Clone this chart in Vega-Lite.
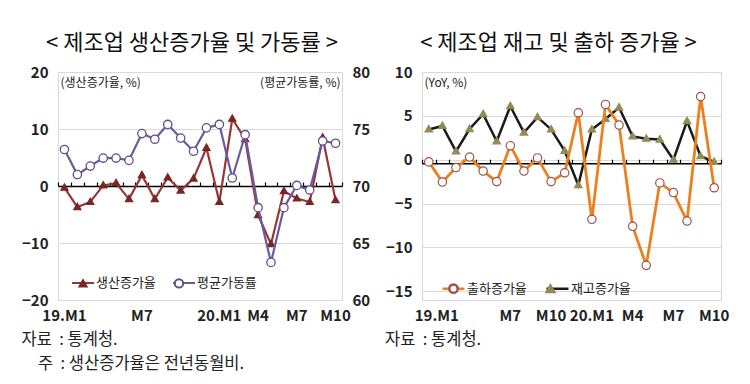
{
  "$schema": "https://vega.github.io/schema/vega-lite/v6.json",
  "background": "white",
  "padding": {"left": 20, "top": 31, "right": 5, "bottom": 5},
  "spacing": 13,
  "config": {
    "font": "Noto Sans CJK KR",
    "view": {"stroke": "#d9d9d9"},
    "axis": {"labelColor": "#222222", "titleColor": "#222222", "labelFont": "Noto Sans CJK KR", "titleFont": "Noto Sans CJK KR"},
    "legend": {"labelFont": "Noto Sans CJK KR", "labelColor": "#222222"},
    "title": {"font": "Noto Sans CJK KR", "color": "#111111"}
  },
  "datasets": {
    "mfg": [
      {"month": "2019-01", "prod": -0.3, "util": 73.2, "ship": -0.25, "inv": 3.45},
      {"month": "2019-02", "prod": -3.7, "util": 71.0, "ship": -2.55, "inv": 3.85},
      {"month": "2019-03", "prod": -2.8, "util": 71.75, "ship": -0.9, "inv": 0.95},
      {"month": "2019-04", "prod": 0.1, "util": 72.45, "ship": 0.3, "inv": 3.5},
      {"month": "2019-05", "prod": 0.5, "util": 72.45, "ship": -1.3, "inv": 5.2},
      {"month": "2019-06", "prod": -2.3, "util": 72.25, "ship": -2.5, "inv": 2.1},
      {"month": "2019-07", "prod": 1.9, "util": 74.6, "ship": 1.6, "inv": 6.1},
      {"month": "2019-08", "prod": -2.3, "util": 74.1, "ship": -1.3, "inv": 3.1},
      {"month": "2019-09", "prod": 1.5, "util": 75.4, "ship": 0.2, "inv": 4.85},
      {"month": "2019-10", "prod": -0.8, "util": 74.2, "ship": -2.5, "inv": 3.45},
      {"month": "2019-11", "prod": 1.3, "util": 73.05, "ship": -1.5, "inv": 1.0},
      {"month": "2019-12", "prod": 6.7, "util": 75.1, "ship": 5.35, "inv": -2.9},
      {"month": "2020-01", "prod": -2.8, "util": 75.4, "ship": -6.8, "inv": 3.45},
      {"month": "2020-02", "prod": 11.8, "util": 70.7, "ship": 6.3, "inv": 4.65},
      {"month": "2020-03", "prod": 8.2, "util": 74.5, "ship": 3.95, "inv": 5.95},
      {"month": "2020-04", "prod": -5.1, "util": 68.1, "ship": -7.6, "inv": 2.65},
      {"month": "2020-05", "prod": -10.2, "util": 63.3, "ship": -12.05, "inv": 2.4},
      {"month": "2020-06", "prod": -0.9, "util": 68.1, "ship": -2.65, "inv": 2.3},
      {"month": "2020-07", "prod": -2.2, "util": 70.05, "ship": -3.75, "inv": 0.0},
      {"month": "2020-08", "prod": -2.8, "util": 69.65, "ship": -7.0, "inv": 4.4},
      {"month": "2020-09", "prod": 8.5, "util": 73.95, "ship": 7.2, "inv": 0.4},
      {"month": "2020-10", "prod": -2.5, "util": 73.75, "ship": -3.2, "inv": -0.25}
    ]
  },
  "resolve": {
    "scale": {"color": "independent", "fill": "independent", "stroke": "independent", "shape": "independent"},
    "legend": {"color": "independent", "fill": "independent", "stroke": "independent", "shape": "independent"}
  },
  "hconcat": [
    {
      "width": 284,
      "height": 228,
      "title": {"text": "< 제조업 생산증가율 및 가동률 >", "fontSize": 22, "fontWeight": "normal", "offset": 10, "dx": -8},
      "data": {"name": "mfg"},
      "layer": [
        {
          "encoding": {
            "x": {
              "field": "month", "type": "ordinal", "bandPosition": 0.5,
              "scale": {"type": "band", "paddingInner": 0, "paddingOuter": 0},
              "axis": {
                "values": ["2019-01", "2019-07", "2020-01", "2020-04", "2020-07", "2020-10"],
                "labelExpr": "substring(datum.value,5,7)=='01' ? substring(datum.value,2,4)+'.M1' : 'M'+toNumber(substring(datum.value,5,7))",
                "domain": false, "ticks": false, "tickSize": 0, "labelAngle": 0,
                "labelFontSize": 15, "labelFontWeight": "bold", "labelPadding": 8,
                "title": ["자료\u00a0 : 통계청.", "\u200b\u3000주\u00a0 : 생산증가율은 전년동월비."],
                "titleAnchor": "start", "titleAlign": "left", "titleX": -37, "titleY": 39,
                "titleBaseline": "middle", "titleFontSize": 16.5, "titleFontWeight": "normal", "titleLineHeight": 24
              }
            }
          },
          "layer": [
            {
              "mark": {"type": "line", "strokeWidth": 2.2},
              "encoding": {
                "y": {"field": "prod", "type": "quantitative", "scale": {"domain": [-20, 20]},
                  "axis": {"values": [-20, -10, 0, 10, 20], "grid": true, "gridColor": "#d9d9d9", "domain": false, "ticks": false,
                    "labelFontSize": 15, "labelFontWeight": "bold", "labelPadding": 10,
                    "title": "(생산증가율, %)", "titleAngle": 0, "titleX": 2, "titleY": 10, "titleAlign": "left", "titleBaseline": "middle",
                    "titleFontSize": 12, "titleFontWeight": "normal"}},
                "color": {
                  "datum": "생산증가율", "type": "nominal",
                  "scale": {"domain": ["생산증가율", "평균가동률"], "range": ["#953735", "#6b5b9e"]},
                  "legend": {"orient": "none", "legendX": 13, "legendY": 199, "direction": "horizontal", "title": null, "padding": 0,
                    "symbolType": "stroke", "symbolSize": 484, "symbolStrokeWidth": 2, "labelFontSize": 13, "labelOffset": 1, "columnPadding": 13}
                }
              }
            },
            {
              "mark": {"type": "point", "filled": true, "size": 484, "strokeWidth": 1.3, "opacity": 1},
              "encoding": {
                "y": {"field": "prod", "type": "quantitative"},
                "shape": {"datum": "p", "type": "nominal",
                  "scale": {"domain": ["p", "u"], "range": ["M0,-0.34L0.32,0.22L-0.32,0.22Z", "M0.38,0A0.38,0.38,0,1,1,-0.38,0A0.38,0.38,0,1,1,0.38,0Z"]},
                  "legend": {"orient": "none", "legendX": 13, "legendY": 199, "direction": "horizontal", "title": null, "padding": 0,
                    "symbolSize": 484, "symbolStrokeWidth": 2, "labelFontSize": 13, "labelOffset": 1, "columnPadding": 71,
                    "labelExpr": "''"}},
                "fill": {"datum": "p", "type": "nominal", "scale": {"domain": ["p", "u"], "range": ["#7a2626", "#ffffff"]}},
                "stroke": {"datum": "p", "type": "nominal", "scale": {"domain": ["p", "u"], "range": ["#7a2626", "#5e4f8c"]}}
              }
            }
          ]
        },
        {
          "encoding": {
            "x": {
              "field": "month", "type": "ordinal", "bandPosition": 0.5,
              "axis": {"labels": false, "title": null, "grid": false, "domainColor": "#000000", "domainWidth": 1.5,
                "tickColor": "#000000", "tickSize": 4, "tickWidth": 1.2, "tickBand": "extent", "offset": -114}
            }
          },
          "layer": [
            {
              "mark": {"type": "line", "strokeWidth": 2.2},
              "encoding": {
                "y": {"field": "util", "type": "quantitative", "scale": {"domain": [60, 80]},
                  "axis": {"orient": "right", "values": [60, 65, 70, 75, 80], "grid": false, "domain": false, "ticks": false,
                    "labelFontSize": 15, "labelFontWeight": "bold", "labelPadding": 10,
                    "title": "(평균가동률, %)", "titleAngle": 0, "titleX": -2, "titleY": 10, "titleAlign": "right", "titleBaseline": "middle",
                    "titleFontSize": 12, "titleFontWeight": "normal"}},
                "color": {"datum": "평균가동률", "type": "nominal"}
              }
            },
            {
              "mark": {"type": "point", "filled": true, "size": 484, "strokeWidth": 1.3, "opacity": 1},
              "encoding": {
                "y": {"field": "util", "type": "quantitative"},
                "shape": {"datum": "u", "type": "nominal"},
                "fill": {"datum": "u", "type": "nominal"},
                "stroke": {"datum": "u", "type": "nominal"}
              }
            }
          ]
        }
      ],
      "resolve": {"scale": {"y": "independent"}, "axis": {"x": "independent"}}
    },
    {
      "width": 299,
      "height": 228,
      "title": {"text": "< 제조업 재고 및 출하 증가율 >", "fontSize": 22, "fontWeight": "normal", "offset": 10, "dx": -13},
      "data": {"name": "mfg"},
      "layer": [
        {
          "encoding": {
            "x": {
              "field": "month", "type": "ordinal", "bandPosition": 0.5,
              "scale": {"type": "band", "paddingInner": 0, "paddingOuter": 0},
              "axis": {
                "values": ["2019-01", "2019-07", "2019-10", "2020-01", "2020-04", "2020-07", "2020-10"],
                "labelExpr": "substring(datum.value,5,7)=='01' ? substring(datum.value,2,4)+'.M1' : 'M'+toNumber(substring(datum.value,5,7))",
                "labelOffset": {"condition": {"test": "datum.value == '2019-01'", "value": 8}, "value": 0},
                "domain": false, "ticks": false, "tickSize": 0, "labelAngle": 0,
                "labelFontSize": 15, "labelFontWeight": "bold", "labelPadding": 8,
                "title": "자료\u00a0 : 통계청.",
                "titleAnchor": "start", "titleAlign": "left", "titleX": -37.5, "titleY": 39,
                "titleBaseline": "middle", "titleFontSize": 16.5, "titleFontWeight": "normal"
              }
            }
          },
          "layer": [
            {
              "mark": {"type": "line", "strokeWidth": 2.5},
              "encoding": {
                "y": {"field": "inv", "type": "quantitative", "scale": {"domain": [-15, 10]},
                  "axis": {"values": [-15, -10, -5, 0, 5, 10], "grid": true, "gridColor": "#d9d9d9", "domain": false, "ticks": false,
                    "labelFontSize": 15, "labelFontWeight": "bold", "labelPadding": 10,
                    "title": "(YoY, %)", "titleAngle": 0, "titleX": 2, "titleY": 10, "titleAlign": "left", "titleBaseline": "middle",
                    "titleFontSize": 12, "titleFontWeight": "normal"}},
                "color": {
                  "datum": "재고증가율", "type": "nominal",
                  "scale": {"domain": ["출하증가율", "재고증가율"], "range": ["#e9811f", "#1a1a1a"]},
                  "legend": {"orient": "none", "legendX": 19, "legendY": 204, "direction": "horizontal", "title": null, "padding": 0,
                    "symbolType": "stroke", "symbolSize": 484, "symbolStrokeWidth": 2.5, "labelFontSize": 13, "labelOffset": 1, "columnPadding": 14}
                }
              }
            },
            {
              "mark": {"type": "point", "filled": true, "size": 484, "strokeWidth": 1.2, "opacity": 1},
              "encoding": {
                "y": {"field": "inv", "type": "quantitative"},
                "shape": {"datum": "i", "type": "nominal",
                  "scale": {"domain": ["s", "i"], "range": ["M0.38,0A0.38,0.38,0,1,1,-0.38,0A0.38,0.38,0,1,1,0.38,0Z", "M0,-0.36L0.34,0.23L-0.34,0.23Z"]},
                  "legend": {"orient": "none", "legendX": 19, "legendY": 204, "direction": "horizontal", "title": null, "padding": 0,
                    "symbolSize": 484, "symbolStrokeWidth": 2.5, "labelFontSize": 13, "labelOffset": 1, "columnPadding": 71,
                    "labelExpr": "''"}},
                "fill": {"datum": "i", "type": "nominal", "scale": {"domain": ["s", "i"], "range": ["#ffffff", "#948a54"]}},
                "stroke": {"datum": "i", "type": "nominal", "scale": {"domain": ["s", "i"], "range": ["#a0504a", "#948a54"]}}
              }
            }
          ]
        },
        {
          "encoding": {
            "x": {
              "field": "month", "type": "ordinal", "bandPosition": 0.5,
              "axis": {"labels": false, "title": null, "grid": false, "domainColor": "#000000", "domainWidth": 1.5,
                "tickColor": "#000000", "tickSize": 4, "tickWidth": 1.2, "tickBand": "extent", "offset": -91.2}
            }
          },
          "layer": [
            {
              "mark": {"type": "line", "strokeWidth": 2.8},
              "encoding": {
                "y": {"field": "ship", "type": "quantitative"},
                "color": {"datum": "출하증가율", "type": "nominal"}
              }
            },
            {
              "mark": {"type": "point", "filled": true, "size": 484, "strokeWidth": 1.2, "opacity": 1},
              "encoding": {
                "y": {"field": "ship", "type": "quantitative"},
                "shape": {"datum": "s", "type": "nominal"},
                "fill": {"datum": "s", "type": "nominal"},
                "stroke": {"datum": "s", "type": "nominal"}
              }
            }
          ]
        }
      ],
      "resolve": {"axis": {"x": "independent"}}
    }
  ]
}
